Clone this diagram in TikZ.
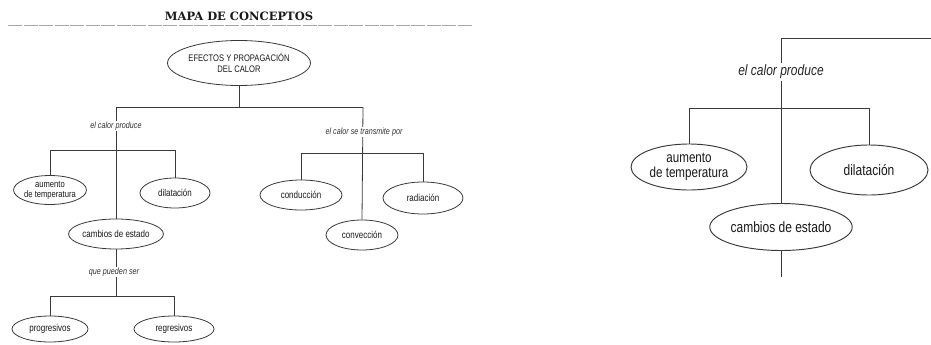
\documentclass[tikz,border=0pt]{standalone}
\usepackage{fontspec}
\setmainfont{Liberation Sans}[FakeStretch=0.8]
\newfontfamily\titlefont{DejaVu Serif}
\usetikzlibrary{shapes.geometric}
\definecolor{ink}{HTML}{3A3A3A}
\tikzset{
  lnS/.style={draw=ink, line width=0.8pt},
  lnB/.style={draw=ink, line width=0.95pt},
  ovS/.style={ellipse, draw=ink, line width=0.8pt, inner sep=0pt, align=center, font=\fontsize{10}{10}\selectfont, text=black!90},
  ovB/.style={ellipse, draw=ink, line width=0.95pt, inner sep=0pt, align=center, font=\fontsize{15}{16}\selectfont, text=black!90},
  lblS/.style={fill=white, inner sep=1pt, font=\fontsize{9}{10}\selectfont\itshape, text=black!80},
  lblB/.style={fill=white, inner sep=2pt, font=\fontsize{15}{16}\selectfont\itshape, text=black!85},
}
\begin{document}
\begin{tikzpicture}[x=1pt, y=-1pt]
\useasboundingbox (0,0) rectangle (931,345);
\fill[white] (0,0) rectangle (931,345);

% title
\node[font=\titlefont\bfseries\fontsize{11.5}{12}\selectfont, text=black!90] (title) at (239,16) {MAPA DE CONCEPTOS};
\coordinate (ruleL) at (8,25);
\coordinate (ruleR) at (472,25);
\draw[black!35, line width=0.6pt, dash pattern=on 14pt off 1.5pt] (ruleL) -- (ruleR);

% ---------- left panel ----------
\node[ovS, minimum width=126pt, minimum height=45pt, font=\fontsize{9.5}{10.5}\selectfont] (top) at (239,63) {EFECTOS Y PROPAGACIÓN\\DEL CALOR};
\coordinate (j0) at (239,107);
\coordinate (jL) at (116,107);
\coordinate (jR) at (363,107);
\draw[lnS] (top.south) -- (j0);
\draw[lnS] (jL) -- (jR);

\node[ovS, minimum width=72pt, minimum height=29pt, font=\fontsize{9.5}{10}\selectfont] (aum) at (50,190) {aumento\\de temperatura};
\node[ovS, minimum width=70pt, minimum height=30pt] (dil) at (175,193) {dilatación};
\node[ovS, minimum width=82pt, minimum height=30pt] (cam) at (116,234) {cambios de estado};
\coordinate (b1L) at (50,150);
\coordinate (b1R) at (175,150);
\draw[lnS] (jL) -- (cam.north);
\draw[lnS] (b1L) -- (b1R);
\draw[lnS] (b1L) -- (aum.north);
\draw[lnS] (b1R) -- (dil.north);
\node[lblS] (l1) at (116,126) {el calor produce};

\node[ovS, minimum width=82pt, minimum height=30pt] (cond) at (301,195) {conducción};
\node[ovS, minimum width=80pt, minimum height=32pt] (rad) at (423,198) {radiación};
\node[ovS, minimum width=72pt, minimum height=30pt] (conv) at (362,235) {convección};
\coordinate (b2L) at (301,153);
\coordinate (b2R) at (423,153);
\draw[lnS] (jR) -- (conv.north);
\draw[lnS] (b2L) -- (b2R);
\draw[lnS] (b2L) -- (cond.north);
\draw[lnS] (b2R) -- (rad.north);
\node[lblS] (l2) at (364,132) {el calor se transmite por};

\node[ovS, minimum width=76pt, minimum height=26pt] (prog) at (50,329) {progresivos};
\node[ovS, minimum width=80pt, minimum height=26pt] (regr) at (174,329) {regresivos};
\coordinate (b3M) at (116,296);
\coordinate (b3L) at (50,296);
\coordinate (b3R) at (174,296);
\draw[lnS] (cam.south) -- (b3M);
\draw[lnS] (b3L) -- (b3R);
\draw[lnS] (b3L) -- (prog.north);
\draw[lnS] (b3R) -- (regr.north);
\node[lblS] (l3) at (114,272) {que pueden ser};

% ---------- right panel ----------
\coordinate (rT) at (781,38);
\coordinate (rTE) at (931,38);
\node[ovB, minimum width=116pt, minimum height=46pt, font=\fontsize{14.5}{15}\selectfont] (aumB) at (689,167) {aumento\\de temperatura};
\node[ovB, minimum width=118pt, minimum height=50pt] (dilB) at (869,170) {dilatación};
\node[ovB, minimum width=120pt, minimum height=47pt] (camB) at (781,227) {cambios de estado};
\coordinate (rbL) at (689,108);
\coordinate (rbR) at (869,108);
\coordinate (rEnd) at (781,277);
\draw[lnB] (rTE) -- (rT) -- (camB.north);
\draw[lnB] (rbL) -- (rbR);
\draw[lnB] (rbL) -- (aumB.north);
\draw[lnB] (rbR) -- (dilB.north);
\draw[lnB] (camB.south) -- (rEnd);
\node[lblB] (lB) at (781,72) {el calor produce};
\end{tikzpicture}
\end{document}
